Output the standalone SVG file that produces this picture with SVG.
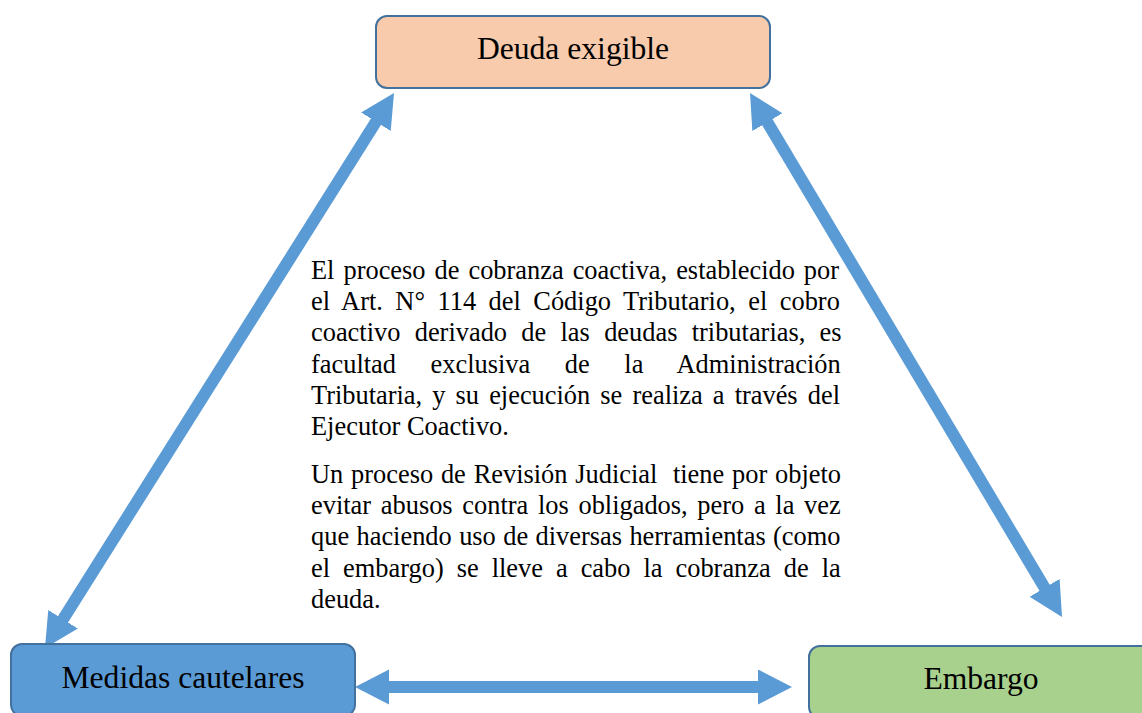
<svg xmlns="http://www.w3.org/2000/svg" width="1142" height="713" viewBox="0 0 1142 713">
<style>
.box{stroke:#41719C;stroke-width:2}
.lbl{font-family:"Liberation Serif","Times New Roman",serif;font-size:31.6px;fill:#000;text-anchor:middle}
.para{font-family:"Liberation Serif","Times New Roman",serif;font-size:26.4px;fill:#000}
.conn{stroke:#5B9BD5;stroke-width:12;fill:none;marker-start:url(#ah);marker-end:url(#ah)}
</style>
<defs>
<marker id="ah" markerUnits="userSpaceOnUse" markerWidth="40" markerHeight="40" refX="2" refY="17.5" orient="auto-start-reverse">
<path d="M0,0 L34,17.5 L0,35 Z" fill="#5B9BD5"/>
</marker>
</defs>
<rect width="1142" height="713" fill="#fff"/>
<g id="connectors">
<line class="conn" x1="62.03" y1="620.91" x2="376.97" y2="120.09"/>
<line class="conn" x1="766.37" y1="120.49" x2="1045.63" y2="589.51"/>
<line class="conn" x1="387" y1="687" x2="760" y2="687"/>
</g>
<g id="node-deuda">
<rect class="box" x="376" y="16" width="394" height="72" rx="11" fill="#F8CBAD"/>
<text class="lbl" x="573" y="59">Deuda exigible</text>
</g>
<g id="node-medidas">
<rect class="box" x="11" y="644" width="344" height="72" rx="11" fill="#5B9BD5"/>
<text class="lbl" x="183" y="688">Medidas cautelares</text>
</g>
<g id="node-embargo">
<rect class="box" x="809" y="646" width="344" height="72" rx="11" fill="#A9D18E"/>
<text class="lbl" x="981" y="689">Embargo</text>
</g>
<g id="description">
<text class="para" x="311" y="279" word-spacing="2.4">El proceso de cobranza coactiva, establecido por</text>
<text class="para" x="311" y="310.2" word-spacing="5.9">el Art. N° 114 del Código Tributario, el cobro</text>
<text class="para" x="311" y="341.4" word-spacing="7.7">coactivo derivado de las deudas tributarias, es</text>
<text class="para" x="311" y="372.6" word-spacing="28">facultad exclusiva de la Administración</text>
<text class="para" x="311" y="403.8" word-spacing="3.5">Tributaria, y su ejecución se realiza a través del</text>
<text class="para" x="311" y="435">Ejecutor Coactivo.</text>
<text class="para" x="311" y="483" word-spacing="1.2" xml:space="preserve">Un proceso de Revisión Judicial  tiene por objeto</text>
<text class="para" x="311" y="514.2" word-spacing="3.1">evitar abusos contra los obligados, pero a la vez</text>
<text class="para" x="311" y="545.4" word-spacing="0.8">que haciendo uso de diversas herramientas (como</text>
<text class="para" x="311" y="576.6" word-spacing="6.4">el embargo) se lleve a cabo la cobranza de la</text>
<text class="para" x="311" y="607.8">deuda.</text>
</g>
</svg>
